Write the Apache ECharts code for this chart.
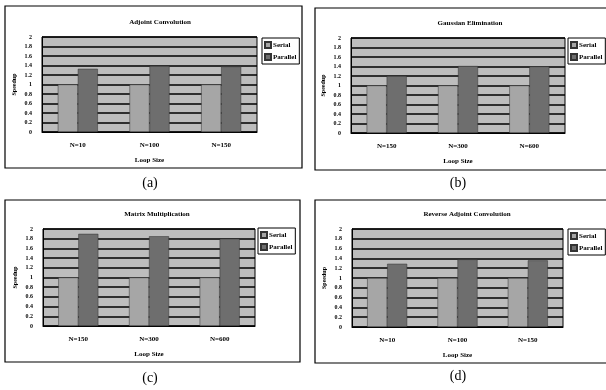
<!DOCTYPE html>
<html>
<head>
<meta charset="utf-8">
<script src="https://cdn.jsdelivr.net/npm/echarts@6/dist/echarts.min.js"></script>
<style>
  html, body { margin: 0; padding: 0; background: #ffffff; }
  #chart { width: 606px; height: 390px; }
</style>
</head>
<body>
<div id="chart"></div>
<script>
// chart data
const titles = ['Adjoint Convolution', 'Gaussian Elimination', 'Matrix Multiplication', 'Reverse Adjoint Convolution'];
const panelTags = ['(a)', '(b)', '(c)', '(d)'];
const categoriesA = ['N=10', 'N=100', 'N=150'];
const categoriesB = ['N=150', 'N=300', 'N=600'];
const categoriesC = ['N=150', 'N=300', 'N=600'];
const categoriesD = ['N=10', 'N=100', 'N=150'];
const serialA = [1, 1, 1];
const parallelA = [1.33, 1.39, 1.38];
const serialB = [1, 1, 1];
const parallelB = [1.2, 1.41, 1.4];
const serialC = [1, 1, 1];
const parallelC = [1.9, 1.85, 1.8];
const serialD = [1, 1, 1];
const parallelD = [1.29, 1.38, 1.36];
const yTicks = ['0', '0.2', '0.4', '0.6', '0.8', '1', '1.2', '1.4', '1.6', '1.8', '2'];

const categories = [categoriesA, categoriesB, categoriesC, categoriesD];
const serial = [serialA, serialB, serialC, serialD];
const parallel = [parallelA, parallelB, parallelC, parallelD];

const font = 'Liberation Serif';

// layout of each panel (pixels)
const panels = [
  { box: [5, 6, 297, 162], grid: [42, 37, 215, 95], legend: [262, 38], title: [155, 14], tag: [150, 183] },
  { box: [315, 8, 296, 162], grid: [351, 38, 214, 95], legend: [568, 38], title: [465, 15], tag: [458, 183] },
  { box: [5, 200, 295, 162], grid: [43, 229, 212, 97], legend: [258, 228], title: [152, 206], tag: [150, 378] },
  { box: [315, 200, 296, 163], grid: [352, 229, 211, 98], legend: [568, 229], title: [462, 206], tag: [458, 376] }
];

const chart = echarts.init(document.getElementById('chart'), null, { renderer: 'canvas' });

const grid = [], xAxis = [], yAxis = [], series = [], title = [], legend = [], graphic = [];

panels.forEach((p, i) => {
  graphic.push({
    type: 'rect',
    shape: { x: p.box[0], y: p.box[1], width: p.box[2], height: p.box[3] },
    style: { fill: 'none', stroke: '#000', lineWidth: 1.2 },
    z: -1
  });
  graphic.push({
    type: 'text',
    x: p.tag[0], y: p.tag[1],
    style: { text: panelTags[i], font: '14px "Liberation Serif"', fill: '#000', textAlign: 'center', textVerticalAlign: 'middle' }
  });

  grid.push({
    left: p.grid[0], top: p.grid[1], width: p.grid[2], height: p.grid[3],
    show: true, backgroundColor: '#bdbdbd', borderColor: '#000', borderWidth: 1
  });
  title.push({
    text: titles[i],
    left: p.title[0], top: p.title[1],
    textAlign: 'center',
    textStyle: { fontFamily: font, fontSize: 7, fontWeight: 'bold', color: '#000' }
  });
  legend.push({
    data: ['Serial', 'Parallel'],
    left: p.legend[0], top: p.legend[1],
    orient: 'vertical',
    icon: 'rect',
    itemWidth: 6, itemHeight: 6, itemGap: 4,
    padding: [3, 3, 3, 2],
    borderColor: '#000', borderWidth: 1,
    backgroundColor: '#fff',
    textStyle: { fontFamily: font, fontSize: 7, fontWeight: 'bold', color: '#000', padding: [0, 0, 0, -3] },
    selectedMode: false
  });
  xAxis.push({
    type: 'category', gridIndex: i, data: categories[i],
    name: 'Loop Size', nameLocation: 'middle', nameGap: 25,
    nameTextStyle: { fontFamily: font, fontSize: 7, fontWeight: 'bold', color: '#000' },
    axisLine: { lineStyle: { color: '#000', width: 1 } },
    axisTick: { show: false },
    axisLabel: { fontFamily: font, fontSize: 7, fontWeight: 'bold', color: '#000', margin: 10 }
  });
  yAxis.push({
    type: 'value', gridIndex: i, min: 0, max: 2, interval: 0.2,
    name: 'Speedup', nameLocation: 'middle', nameGap: 25, nameRotate: 90,
    nameTextStyle: { fontFamily: font, fontSize: 6, fontWeight: 'bold', color: '#000' },
    axisLine: { show: true, lineStyle: { color: '#000', width: 1 } },
    axisTick: { show: false },
    axisLabel: {
      fontFamily: font, fontSize: 6, fontWeight: 'bold', color: '#000', margin: 10,
      formatter: (v) => yTicks[Math.round(v / 0.2)]
    },
    splitLine: { show: true, lineStyle: { color: '#000', width: 1.5 } }
  });
  series.push({
    name: 'Serial', type: 'bar', xAxisIndex: i, yAxisIndex: i,
    data: serial[i], barWidth: 20, barGap: '0%',
    itemStyle: { color: '#a6a6a6', borderColor: '#333', borderWidth: 0.5 }
  });
  series.push({
    name: 'Parallel', type: 'bar', xAxisIndex: i, yAxisIndex: i,
    data: parallel[i], barWidth: 20, barGap: '0%',
    itemStyle: { color: '#6e6e6e', borderColor: '#333', borderWidth: 0.5 }
  });
});

chart.setOption({
  animation: false,
  backgroundColor: '#ffffff',
  title, legend, grid, xAxis, yAxis, series, graphic
});
</script>
</body>
</html>
